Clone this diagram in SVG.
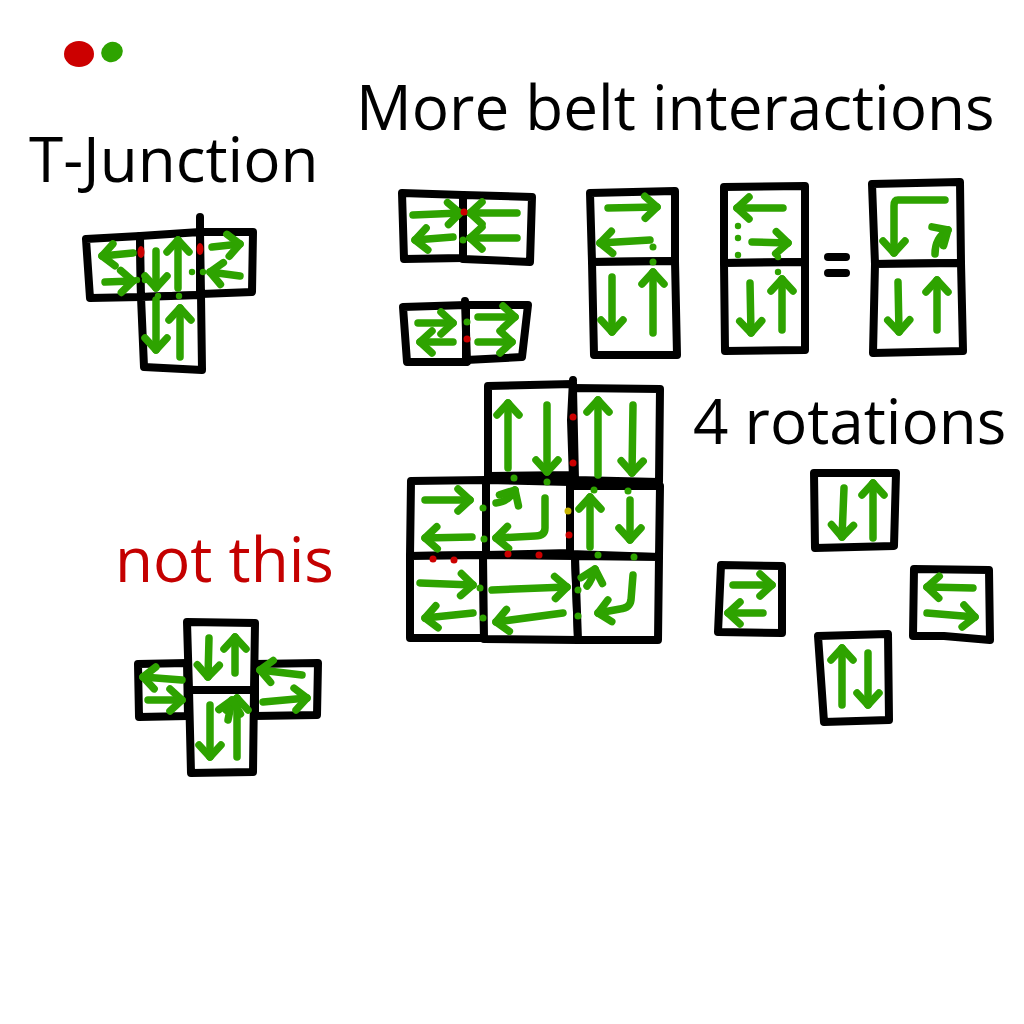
<svg xmlns="http://www.w3.org/2000/svg" width="1024" height="1024" viewBox="0 0 1024 1024">
<style>
.t{fill:#fff;stroke:#000;stroke-width:8;stroke-linejoin:round;stroke-linecap:round}
.k{fill:none;stroke:#000;stroke-width:8;stroke-linecap:round}
.a{fill:none;stroke:#2ea300;stroke-width:7.5;stroke-linecap:round;stroke-linejoin:round;marker-end:url(#ah)}
.g{fill:#2ea300}
.r{fill:#cc0000}
.y{fill:#c8b400}
.lbl{font-family:"Open Sans","Noto Sans",sans-serif;font-size:62px;fill:#000}
</style>
<defs>
<marker id="ah" markerUnits="userSpaceOnUse" markerWidth="40" markerHeight="40" viewBox="-20 -20 40 40" refX="0" refY="0" orient="auto" overflow="visible">
<path d="M-12,-11 L0,0 L-12,11" fill="none" stroke="#2ea300" stroke-width="7.5" stroke-linecap="round" stroke-linejoin="round"/>
</marker>
</defs>
<rect width="1024" height="1024" fill="#fff"/>

<ellipse cx="79" cy="54" rx="15" ry="13" class="r"/>
<ellipse cx="112" cy="52" rx="11" ry="10" class="g" transform="rotate(-25 112 52)"/>

<text class="lbl" x="356" y="130">More belt interactions</text>
<text class="lbl" x="29" y="182">T-Junction</text>
<text class="lbl" x="693" y="444">4 rotations</text>
<text class="lbl" x="115" y="582" style="fill:#c40000">not this</text>

<g id="t-junction">
<path class="t" d="M86,239 L140,236 L141,297 L90,298 Z"/>
<path class="t" d="M140,236 L200,232 L201,295 L141,297 Z"/>
<path class="t" d="M200,232 L253,232 L252,292 L201,294 Z"/>
<path class="t" d="M141,297 L201,295 L202,370 L144,367 Z"/>
<path class="k" d="M200,217 L200,293"/>
<path class="a" d="M133,253 L102,256"/>
<path class="a" d="M105,282 L133,281"/>
<path class="a" d="M156,251 L156,288"/>
<path class="a" d="M178,288 L178,240"/>
<path class="a" d="M212,247 L240,244"/>
<path class="a" d="M240,276 L210,272"/>
<path class="a" d="M156,300 L156,350"/>
<path class="a" d="M180,357 L180,308"/>
<ellipse cx="141" cy="252" rx="3.5" ry="6" class="r"/>
<ellipse cx="200" cy="249" rx="3.5" ry="6" class="r"/>
<circle cx="137" cy="280" r="3.2" class="g"/>
<circle cx="145" cy="280" r="3.2" class="g"/>
<circle cx="192" cy="272" r="3.2" class="g"/>
<circle cx="203" cy="272" r="3.2" class="g"/>
<circle cx="158" cy="296" r="3.2" class="g"/>
<circle cx="179" cy="296" r="3.2" class="g"/>
</g>

<g id="pair-a">
<path class="t" d="M402,193 L463,195 L463,258 L404,259 Z"/>
<path class="t" d="M463,195 L532,197 L530,262 L463,259 Z"/>
<path class="a" d="M413,215 L460,213"/>
<path class="a" d="M453,237 L415,240"/>
<path class="a" d="M517,213 L470,213"/>
<path class="a" d="M517,238 L470,238"/>
<circle cx="464" cy="212" r="3.5" class="r"/>
<circle cx="463" cy="240" r="3.5" class="g"/>
</g>

<g id="pair-b">
<path class="t" d="M403,307 L466,305 L466,362 L407,362 Z"/>
<path class="t" d="M466,305 L528,305 L522,357 L466,360 Z"/>
<path class="k" d="M465,301 L467,362"/>
<path class="a" d="M418,323 L453,323"/>
<path class="a" d="M453,342 L420,342"/>
<path class="a" d="M478,317 L515,317"/>
<path class="a" d="M478,342 L512,342"/>
<circle cx="467" cy="322" r="3.5" class="g"/>
<circle cx="467" cy="339" r="3.5" class="r"/>
</g>

<g id="pair-c">
<path class="t" d="M590,193 L675,191 L675,261 L592,262 Z"/>
<path class="t" d="M592,262 L675,261 L677,355 L594,355 Z"/>
<path class="a" d="M608,208 L657,207"/>
<path class="a" d="M650,240 L600,243"/>
<path class="a" d="M612,277 L612,332"/>
<path class="a" d="M653,333 L653,272"/>
<circle cx="653" cy="247" r="3.5" class="g"/>
<circle cx="653" cy="262" r="3.5" class="g"/>
</g>

<g id="pair-d">
<path class="t" d="M724,187 L805,186 L805,262 L724,263 Z"/>
<path class="t" d="M724,263 L805,262 L805,350 L725,351 Z"/>
<path class="a" d="M783,208 L737,208"/>
<path class="a" d="M752,242 L788,243"/>
<path class="a" d="M750,283 L751,333"/>
<path class="a" d="M782,330 L782,279"/>
<circle cx="738" cy="226" r="3.2" class="g"/>
<circle cx="738" cy="238" r="3.2" class="g"/>
<circle cx="738" cy="255" r="3.2" class="g"/>
<circle cx="778" cy="257" r="3.2" class="g"/>
<circle cx="778" cy="272" r="3.2" class="g"/>
</g>

<g id="equals">
<path class="k" d="M828,257 L846,257 M828,273 L846,273"/>
</g>

<g id="pair-e">
<path class="t" d="M872,184 L960,182 L961,263 L875,264 Z"/>
<path class="t" d="M875,264 L961,263 L963,351 L873,353 Z"/>
<path class="a" d="M945,200 L898,200 Q894,200 894,206 L894,253"/>
<path class="a" d="M935,254 Q935,238 948,230"/>
<path class="a" d="M898,282 L899,332"/>
<path class="a" d="M937,330 L937,280"/>
</g>

<g id="grid">
<path class="t" d="M488,386 L573,384 L573,475 L488,476 Z"/>
<path class="t" d="M573,388 L660,389 L659,482 L575,480 Z"/>
<path class="k" d="M573,380 L571,420 L573,480"/>
<path class="t" d="M411,481 L486,480 L486,555 L410,556 Z"/>
<path class="t" d="M486,480 L570,482 L570,553 L486,555 Z"/>
<path class="t" d="M570,486 L660,486 L659,557 L570,554 Z"/>
<path class="t" d="M410,556 L483,555 L484,638 L410,638 Z"/>
<path class="t" d="M483,555 L575,556 L578,640 L484,639 Z"/>
<path class="t" d="M575,556 L659,557 L658,640 L578,640 Z"/>
<path class="a" d="M508,468 L508,403"/>
<path class="a" d="M547,405 L547,472"/>
<path class="a" d="M598,475 L598,400"/>
<path class="a" d="M633,405 L632,473"/>
<path class="a" d="M425,500 L470,500"/>
<path class="a" d="M472,537 L425,538"/>
<path class="a" d="M496,503 Q508,502 515,490"/>
<path class="a" d="M545,498 L545,528 Q545,536 535,536 L496,538"/>
<path class="a" d="M590,547 L590,497"/>
<path class="a" d="M630,500 L630,540"/>
<path class="a" d="M420,583 L473,585"/>
<path class="a" d="M473,613 L425,618"/>
<path class="a" d="M492,590 L567,587"/>
<path class="a" d="M563,613 L496,622"/>
<path class="a" d="M587,586 Q592,580 595,569"/>
<path class="a" d="M633,575 L631,600 Q630,608 620,609 L598,613"/>
<circle cx="573" cy="417" r="3.5" class="r"/>
<circle cx="573" cy="463" r="3.5" class="r"/>
<circle cx="514" cy="478" r="3.5" class="g"/>
<circle cx="547" cy="482" r="3.5" class="g"/>
<circle cx="594" cy="490" r="3.5" class="g"/>
<circle cx="628" cy="491" r="3.5" class="g"/>
<circle cx="483" cy="508" r="3.5" class="g"/>
<circle cx="484" cy="539" r="3.5" class="g"/>
<circle cx="568" cy="511" r="3.5" class="y"/>
<circle cx="569" cy="535" r="3.5" class="r"/>
<circle cx="433" cy="559" r="3.5" class="r"/>
<circle cx="454" cy="560" r="3.5" class="r"/>
<circle cx="508" cy="554" r="3.5" class="r"/>
<circle cx="539" cy="555" r="3.5" class="r"/>
<circle cx="598" cy="555" r="3.5" class="g"/>
<circle cx="634" cy="557" r="3.5" class="g"/>
<circle cx="480" cy="588" r="3.5" class="g"/>
<circle cx="483" cy="618" r="3.5" class="g"/>
<circle cx="578" cy="590" r="3.5" class="g"/>
<circle cx="578" cy="616" r="3.5" class="g"/>
</g>

<g id="rot-top">
<path class="t" d="M814,473 L896,473 L894,546 L815,548 Z"/>
<path class="a" d="M844,488 L842,537"/>
<path class="a" d="M873,538 L873,483"/>
</g>
<g id="rot-left">
<path class="t" d="M721,565 L782,566 L782,633 L718,632 Z"/>
<path class="a" d="M733,585 L772,585"/>
<path class="a" d="M763,613 L728,613"/>
</g>
<g id="rot-right">
<path class="t" d="M914,569 L989,570 L990,640 L944,636 L913,636 Z"/>
<path class="a" d="M973,588 L927,587"/>
<path class="a" d="M927,613 L975,617"/>
</g>
<g id="rot-bottom">
<path class="t" d="M818,636 L888,634 L889,720 L824,722 Z"/>
<path class="a" d="M842,705 L842,648"/>
<path class="a" d="M868,653 L868,705"/>
</g>

<g id="not-this">
<path class="t" d="M138,664 L187,663 L188,716 L139,717 Z"/>
<path class="t" d="M255,664 L318,663 L317,715 L255,716 Z"/>
<path class="t" d="M187,622 L255,623 L254,690 L189,690 Z"/>
<path class="t" d="M189,690 L254,690 L253,772 L191,773 Z"/>
<path class="a" d="M182,680 L143,677"/>
<path class="a" d="M148,700 L182,700"/>
<path class="a" d="M302,675 L260,670"/>
<path class="a" d="M263,702 L307,698"/>
<path class="a" d="M209,638 L208,677"/>
<path class="a" d="M235,673 L235,637"/>
<path class="a" d="M210,705 L210,757"/>
<path class="a" d="M237,757 L237,698"/>
<path class="a" d="M228,720 L232,700"/>
</g>
</svg>
